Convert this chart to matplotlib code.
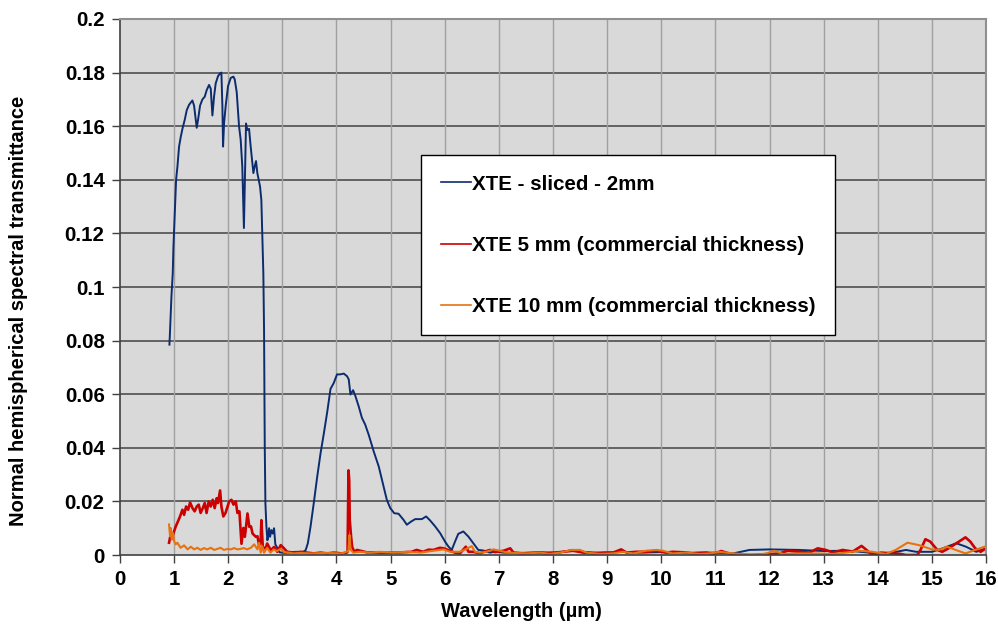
import matplotlib.pyplot as plt

plt.rcParams['font.family'] = ['Liberation Sans', 'DejaVu Sans']
plt.rcParams['font.weight'] = 'bold'

# XTE - sliced - 2mm
wl_2mm = [0.914, 0.926, 0.951, 0.975, 0.988, 1.012, 1.037, 1.062, 1.092, 1.123,
          1.154, 1.197, 1.234, 1.277, 1.338, 1.369, 1.40, 1.418, 1.443, 1.48,
          1.523, 1.566, 1.603, 1.646, 1.677, 1.708, 1.738, 1.769, 1.812, 1.849,
          1.874, 1.892, 1.905, 1.923, 1.954, 1.997, 2.046, 2.095, 2.12, 2.157,
          2.20, 2.23, 2.26, 2.29, 2.311, 2.329, 2.354, 2.385, 2.415, 2.465,
          2.489, 2.514, 2.538, 2.588, 2.612, 2.631, 2.649, 2.662, 2.675, 2.687,
          2.706, 2.724, 2.736, 2.755, 2.773, 2.798, 2.822, 2.847, 2.87, 2.95,
          3.05, 3.245, 3.37, 3.43, 3.47, 3.52, 3.58, 3.644, 3.706, 3.767,
          3.83, 3.89, 3.95, 4.01, 4.07, 4.135, 4.196, 4.227, 4.258, 4.307,
          4.35, 4.41, 4.47, 4.53, 4.595, 4.687, 4.78, 4.87, 4.93, 4.994,
          5.067, 5.147, 5.24, 5.30, 5.38, 5.454, 5.577, 5.656, 5.73, 5.822,
          5.914, 6.006, 6.067, 6.129, 6.19, 6.25, 6.344, 6.436, 6.528, 6.62,
          6.71, 6.834, 6.957, 7.08, 7.4, 7.8, 8.1, 8.37, 8.6, 8.9,
          9.3, 9.6, 10.0, 10.4, 10.71, 11.0, 11.33, 11.63, 12.0, 12.55,
          13.0, 13.47, 14.0, 14.27, 14.52, 14.71, 15.0, 15.2, 15.45, 15.63,
          15.82, 16.0]
tr_2mm = [0.0785, 0.084, 0.0965, 0.105, 0.115, 0.1276, 0.140, 0.145, 0.1524, 0.156,
          0.159, 0.1624, 0.166, 0.168, 0.1696, 0.1677, 0.1624, 0.1594, 0.1624, 0.1677,
          0.170, 0.171, 0.1735, 0.1754, 0.174, 0.164, 0.171, 0.176, 0.1787, 0.1797,
          0.180, 0.1677, 0.1524, 0.161, 0.1677, 0.175, 0.178, 0.1785, 0.1775, 0.1727,
          0.160, 0.155, 0.145, 0.122, 0.1425, 0.161, 0.1586, 0.159, 0.1524, 0.1425,
          0.145, 0.147, 0.1425, 0.1375, 0.1325, 0.1176, 0.105, 0.084, 0.0404, 0.0193,
          0.0105, 0.0055, 0.0068, 0.010, 0.0068, 0.0093, 0.008, 0.010, 0.004, 0.001,
          0.0008, 0.0012, 0.001, 0.0018, 0.0043, 0.0105, 0.0193, 0.0292, 0.038, 0.0454,
          0.0535, 0.0620, 0.0642, 0.0674, 0.0674, 0.0677, 0.0667, 0.0655, 0.0599, 0.0615,
          0.0593, 0.0555, 0.0512, 0.0487, 0.0449, 0.0387, 0.0331, 0.0256, 0.0206, 0.0175,
          0.0156, 0.0154, 0.0131, 0.0113, 0.0125, 0.0134, 0.0134, 0.0144, 0.0129, 0.0107,
          0.0082, 0.0050, 0.0032, 0.0019, 0.0050, 0.0079, 0.0088, 0.0069, 0.0044, 0.0019,
          0.0017, 0.0009, 0.0013, 0.0009, 0.0008, 0.0010, 0.0009, 0.0019, 0.0011, 0.0008,
          0.0012, 0.0009, 0.0011, 0.0008, 0.0009, 0.0009, 0.0006, 0.0019, 0.0021, 0.0019,
          0.0015, 0.0016, 0.0006, 0.0009, 0.0019, 0.0012, 0.0012, 0.0025, 0.0044, 0.0031,
          0.0012, 0.0025]

# XTE 5 mm
wl_5mm = [0.907, 0.938, 0.969, 1.0, 1.031, 1.06, 1.11, 1.154, 1.185, 1.222,
          1.26, 1.296, 1.34, 1.38, 1.418, 1.455, 1.49, 1.53, 1.566, 1.60,
          1.64, 1.677, 1.714, 1.75, 1.788, 1.81, 1.85, 1.874, 1.91, 1.95,
          1.988, 2.018, 2.06, 2.097, 2.14, 2.17, 2.207, 2.245, 2.28, 2.307,
          2.33, 2.356, 2.39, 2.42, 2.45, 2.51, 2.54, 2.57, 2.60, 2.613,
          2.638, 2.69, 2.72, 2.755, 2.785, 2.847, 2.908, 2.97, 3.03, 3.09,
          3.215, 3.34, 3.46, 3.58, 3.706, 3.83, 3.95, 4.10, 4.19, 4.205,
          4.222, 4.235, 4.245, 4.255, 4.27, 4.29, 4.33, 4.38, 4.56, 4.81,
          5.12, 5.39, 5.48, 5.6, 5.7, 5.79, 5.91, 5.98, 6.1, 6.19,
          6.28, 6.39, 6.44, 6.53, 6.65, 6.72, 6.84, 6.93, 7.09, 7.21,
          7.27, 7.45, 7.76, 7.88, 8.04, 8.37, 8.56, 8.74, 8.93, 9.11,
          9.26, 9.36, 9.54, 9.72, 9.91, 10.09, 10.21, 10.43, 10.58, 10.83,
          10.96, 11.11, 11.2, 11.33, 11.63, 11.94, 12.18, 12.34, 12.55, 12.74,
          12.89, 13.04, 13.17, 13.35, 13.53, 13.7, 13.78, 13.9, 14.06, 14.27,
          14.42, 14.52, 14.73, 14.79, 14.88, 14.97, 15.1, 15.19, 15.31, 15.47,
          15.62, 15.71, 15.8, 15.9, 16.0]
tr_5mm = [0.0046, 0.0077, 0.007, 0.0089, 0.0107, 0.012, 0.0144, 0.0169, 0.015, 0.0181,
          0.0169, 0.0196, 0.0175, 0.0163, 0.0181, 0.0188, 0.0157, 0.0175, 0.0194, 0.0157,
          0.020, 0.0181, 0.0206, 0.0175, 0.0212, 0.0194, 0.0241, 0.0181, 0.0144, 0.0157,
          0.0181, 0.020, 0.0206, 0.0188, 0.020, 0.0157, 0.0163, 0.0042, 0.0101, 0.0068,
          0.0107, 0.0155, 0.0105, 0.0107, 0.008, 0.0068, 0.007, 0.0037, 0.0052, 0.013,
          0.003, 0.0024, 0.0043, 0.003, 0.0018, 0.003, 0.0012, 0.0037, 0.0025, 0.0012,
          0.0009, 0.0012, 0.0009, 0.0006, 0.0009, 0.0006, 0.0009, 0.0006, 0.0009, 0.0012,
          0.0316, 0.028, 0.0131, 0.0107, 0.0068, 0.003, 0.0012, 0.0019, 0.001, 0.0009,
          0.0009, 0.0012, 0.0019, 0.0012, 0.002, 0.0019, 0.0027, 0.0025, 0.0016, 0.0009,
          0.0006, 0.0031, 0.0012, 0.0012, 0.0006, 0.0012, 0.0019, 0.0011, 0.0016, 0.0025,
          0.0009, 0.0006, 0.0009, 0.0006, 0.0009, 0.0016, 0.0009, 0.0006, 0.0009, 0.0009,
          0.0021, 0.0009, 0.0012, 0.0012, 0.0016, 0.0009, 0.0012, 0.0010, 0.0006, 0.0009,
          0.0004, 0.0015, 0.0009, 0.0002, 0.0, 0.0002, 0.0006, 0.0016, 0.0012, 0.0009,
          0.0025, 0.0019, 0.0009, 0.0019, 0.0012, 0.0034, 0.0021, 0.0, 0.0009, 0.0006,
          0.0004, 0.0, 0.0, 0.0019, 0.0059, 0.005, 0.0019, 0.0012, 0.0025, 0.0046,
          0.0066, 0.005, 0.0025, 0.0012, 0.0025]

# XTE 10 mm
wl_10mm = [0.907, 0.926, 0.938, 0.957, 0.975, 1.0, 1.03, 1.06, 1.12, 1.185,
           1.25, 1.31, 1.37, 1.43, 1.49, 1.55, 1.61, 1.68, 1.74, 1.80,
           1.86, 1.92, 1.99, 2.05, 2.11, 2.17, 2.23, 2.29, 2.35, 2.42,
           2.48, 2.54, 2.57, 2.60, 2.63, 2.66, 2.72, 2.78, 2.84, 2.90,
           2.97, 3.03, 3.12, 3.21, 3.33, 3.52, 3.83, 4.07, 4.13, 4.22,
           4.24, 4.26, 4.31, 4.44, 4.63, 4.81, 5.06, 5.30, 5.55, 5.79,
           5.98, 6.10, 6.28, 6.37, 6.5, 6.56, 6.65, 6.77, 6.9, 7.02,
           7.15, 7.52, 7.76, 7.94, 8.13, 8.34, 8.50, 8.62, 8.87, 9.11,
           9.29, 9.48, 9.72, 9.91, 10.03, 10.21, 10.46, 10.71, 10.9, 11.08,
           11.2, 11.45, 11.75, 11.94, 12.09, 12.25, 12.55, 12.86, 13.17, 13.41,
           13.66, 13.9, 14.15, 14.33, 14.55, 14.76, 15.0, 15.13, 15.28, 15.44,
           15.62, 15.8, 16.0]
tr_10mm = [0.0114, 0.007, 0.0101, 0.0058, 0.0083, 0.0052, 0.004, 0.0046, 0.0027, 0.0036,
           0.0021, 0.0031, 0.0021, 0.0027, 0.0019, 0.0026, 0.0021, 0.0027, 0.0019, 0.0023,
           0.0027, 0.0019, 0.0023, 0.0021, 0.0026, 0.0021, 0.0023, 0.0026, 0.0021, 0.0027,
           0.004, 0.0021, 0.0046, 0.0009, 0.0033, 0.0009, 0.0027, 0.0009, 0.0021, 0.0015,
           0.0023, 0.0011, 0.0009, 0.0006, 0.0008, 0.0006, 0.0008, 0.0006, 0.0008, 0.0015,
           0.0075, 0.0021, 0.0009, 0.0012, 0.0009, 0.0012, 0.0009, 0.0012, 0.0009, 0.0016,
           0.0021, 0.0012, 0.0012, 0.002, 0.0033, 0.0012, 0.0009, 0.0012, 0.0021, 0.0016,
           0.0009, 0.0006, 0.0009, 0.0004, 0.0009, 0.0019, 0.0019, 0.0009, 0.0004, 0.0006,
           0.0012, 0.0006, 0.0016, 0.0019, 0.0016, 0.0006, 0.0009, 0.0004, 0.0006, 0.0012,
           0.0009, 0.0004, 0.0, 0.0006, 0.0016, 0.0004, 0.0006, 0.0006, 0.0004, 0.0009,
           0.0016, 0.0012, 0.0004, 0.0019, 0.0046, 0.0037, 0.0021, 0.0019, 0.0031, 0.0019,
           0.0006, 0.0019, 0.0033]

y_ticks = [0, 0.02, 0.04, 0.06, 0.08, 0.1, 0.12, 0.14, 0.16, 0.18, 0.2]
y_labels = ['0', '0.02', '0.04', '0.06', '0.08', '0.1', '0.12', '0.14', '0.16', '0.18', '0.2']

fig = plt.figure(figsize=(9.98, 6.29), dpi=100)
ax = fig.add_axes([0.1202, 0.1176, 0.8678, 0.8522])
ax.set_facecolor('#D9D9D9')

ax.plot(wl_2mm, tr_2mm, color='#0B2C6E', lw=1.4, label='XTE - sliced - 2mm')
ax.plot(wl_5mm, tr_5mm, color='#CC0000', lw=1.9, label='XTE 5 mm (commercial thickness)')
ax.plot(wl_10mm, tr_10mm, color='#E8720F', lw=1.5, label='XTE 10 mm (commercial thickness)')

ax.set_xlim(0, 16)
ax.set_ylim(0, 0.2)
ax.set_xticks(range(0, 17))
ax.set_yticks(y_ticks)
ax.set_yticklabels(y_labels)

# rejilla: horizontales oscuras, verticales claras
for yv in y_ticks[1:-1]:
    ax.axhline(yv, color='#595959', lw=1.3, zorder=0.5)
for xv in range(1, 16):
    ax.axvline(xv, color='#A0A0A0', lw=1.0, zorder=0.5)

for s in ['top', 'right']:
    ax.spines[s].set_color('#909090')
    ax.spines[s].set_linewidth(1.5)
for s in ['left', 'bottom']:
    ax.spines[s].set_color('#404040')
    ax.spines[s].set_linewidth(1.2)

ax.tick_params(axis='both', direction='out', length=6, width=1, color='#404040',
               labelsize=14.8, pad=5)
for lbl in ax.get_xticklabels() + ax.get_yticklabels():
    lbl.set_fontweight('bold')

ax.set_xlabel('Wavelength (\u00b5m)', fontsize=14.5, fontweight='bold')
ax.set_ylabel('Normal hemispherical spectral transmittance', fontsize=14.5,
              fontweight='bold')
ax.xaxis.set_label_coords(0.463, -0.088)
ax.yaxis.set_label_coords(-0.106, 0.455)

leg = ax.legend(loc='upper left', bbox_to_anchor=(0.3476, 0.746),
                fontsize=14.8, frameon=True, fancybox=False, framealpha=1,
                edgecolor='black', labelspacing=2.05, handlelength=1.5,
                handletextpad=0.05, borderpad=0.95, borderaxespad=0)
leg.get_frame().set_linewidth(1.0)
for t in leg.get_texts():
    t.set_fontweight('bold')
for h in leg.get_lines():
    h.set_linewidth(1.2)

fig.savefig('out.png', dpi=100)
